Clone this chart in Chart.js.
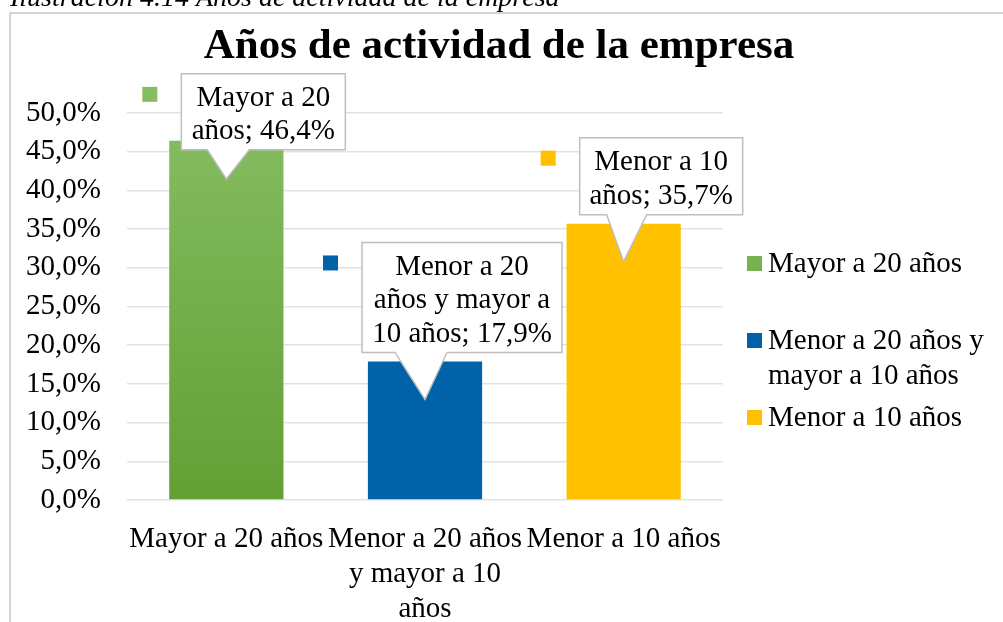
<!DOCTYPE html>
<html lang="es">
<head>
<meta charset="UTF-8">
<title>Años de actividad de la empresa</title>
<script src="https://cdn.jsdelivr.net/npm/chart.js"></script>
<style>
  html, body { margin: 0; padding: 0; background: #fff; overflow: hidden; }
  #wrap { width: 1003px; height: 622px; }
</style>
</head>
<body>
<div id="wrap"><canvas id="myChart" width="1003" height="622"></canvas></div>
<script>
// --- datos ---
const caption = 'Ilustración 4.14 Años de actividad de la empresa';
const chartTitle = 'Años de actividad de la empresa';
const categories = ['Mayor a 20 años', 'Menor a 20 años y mayor a 10 años', 'Menor a 10 años'];
const tickLabels = [['Mayor a 20 años'], ['Menor a 20 años', 'y mayor a 10', 'años'], ['Menor a 10 años']];
const values = [46.4, 17.9, 35.7];
const yMax = 50;
const yStep = 5;

// --- estilo ---
const serif = "'Liberation Serif', 'Times New Roman', serif";
const barColors = ['#6aa83e', '#0062a9', '#ffc000'];
const gridColor = '#dfe3e8';

function pct(v) {
  return v.toFixed(1).replace('.', ',') + '%';
}

function wrapText(ctx, text, maxW) {
  const words = text.split(' ');
  const lines = [];
  let line = '';
  words.forEach(function (w) {
    const test = line ? line + ' ' + w : w;
    if (line && ctx.measureText(test).width > maxW) {
      lines.push(line);
      line = w;
    } else {
      line = test;
    }
  });
  if (line) lines.push(line);
  return lines;
}

function greenGradient(chart) {
  const area = chart.chartArea;
  if (!area) return barColors[0];
  const g = chart.ctx.createLinearGradient(0, area.top, 0, area.bottom);
  g.addColorStop(0, '#86bd62');
  g.addColorStop(1, '#62a034');
  return g;
}

// callouts: desplazamientos respecto a la punta
const callouts = [
  { dx: -45, w: 164, top: -105, bottom: -29, b0: -19, b1: 23 },
  { dx: -63, w: 200, top: -157, bottom: -47, b0: -30, b1: 22 },
  { dx: -44, w: 163, top: -124, bottom: -47, b0: -17, b1: 23 }
];
const legendY = [263, 340, 417];

const decor = {
  id: 'decor',
  afterDraw: function (chart) {
    const ctx = chart.ctx;
    ctx.save();

    // marco
    ctx.strokeStyle = '#c8c8c8';
    ctx.lineWidth = 1.5;
    ctx.beginPath();
    ctx.moveTo(10, 622);
    ctx.lineTo(10, 13);
    ctx.lineTo(1003, 13);
    ctx.stroke();

    // leyenda de la ilustracion (cortada arriba)
    ctx.fillStyle = '#000';
    ctx.font = 'italic 28px ' + serif;
    ctx.textAlign = 'left';
    ctx.textBaseline = 'alphabetic';
    ctx.fillText(caption, 10, 6);

    // titulo
    ctx.font = 'bold 43px ' + serif;
    ctx.textAlign = 'center';
    ctx.textBaseline = 'alphabetic';
    ctx.fillText(chartTitle, 499, 58);

    // etiquetas de datos
    const meta = chart.getDatasetMeta(0);
    ctx.font = '29px ' + serif;
    meta.data.forEach(function (bar, i) {
      const c = callouts[i];
      const tx = bar.x, ty = bar.y + 38;
      const l = tx + c.dx, r = l + c.w, t = ty + c.top, b = ty + c.bottom;
      ctx.beginPath();
      ctx.moveTo(l, t);
      ctx.lineTo(r, t);
      ctx.lineTo(r, b);
      ctx.lineTo(tx + c.b1, b);
      ctx.lineTo(tx, ty);
      ctx.lineTo(tx + c.b0, b);
      ctx.lineTo(l, b);
      ctx.closePath();
      ctx.fillStyle = '#fff';
      ctx.fill();
      ctx.strokeStyle = '#bfbfbf';
      ctx.lineWidth = 1.5;
      ctx.stroke();

      const lines = wrapText(ctx, categories[i] + '; ' + pct(values[i]), c.w - 12);
      ctx.fillStyle = '#000';
      ctx.textAlign = 'center';
      ctx.textBaseline = 'middle';
      const h = b - t;
      const y0 = t + h / 2 + 3 - (lines.length - 1) * 33.5 / 2;
      lines.forEach(function (ln, k) {
        ctx.fillText(ln, (l + r) / 2, y0 + k * 33.5);
      });

      // clave de leyenda
      ctx.fillStyle = i === 0 ? greenGradient(chart) : barColors[i];
      ctx.fillRect(l - 39, t + 13, 15, 15);
    });

    // leyenda
    ctx.textAlign = 'left';
    ctx.textBaseline = 'middle';
    categories.forEach(function (cat, i) {
      const y = legendY[i];
      ctx.fillStyle = i === 0 ? greenGradient(chart) : barColors[i];
      ctx.fillRect(747, y - 7, 15, 15);
      ctx.fillStyle = '#000';
      const lines = wrapText(ctx, cat, 228);
      lines.forEach(function (ln, k) {
        ctx.fillText(ln, 768, y + 1 + k * 35);
      });
    });

    ctx.restore();
  }
};

Chart.defaults.font.family = serif;
Chart.defaults.color = '#000';

new Chart(document.getElementById('myChart'), {
  type: 'bar',
  data: {
    labels: tickLabels,
    datasets: [{
      data: values,
      backgroundColor: function (c) {
        return c.dataIndex === 0 ? greenGradient(c.chart) : barColors[c.dataIndex];
      },
      borderWidth: 0,
      categoryPercentage: 1,
      barPercentage: 0.575
    }]
  },
  options: {
    responsive: false,
    animation: false,
    layout: { padding: { left: 10, right: 280, top: 113, bottom: 0 } },
    plugins: {
      legend: { display: false },
      title: { display: false },
      tooltip: { enabled: false }
    },
    scales: {
      x: {
        grid: { display: false },
        border: { display: false },
        ticks: {
          font: { size: 29, lineHeight: 1.2 },
          color: '#000',
          padding: 14,
          maxRotation: 0,
          autoSkip: false
        },
        afterFit: function (scale) { scale.height = 122; }
      },
      y: {
        min: 0,
        max: yMax,
        grid: { color: gridColor, lineWidth: 1.5, drawTicks: false },
        border: { display: false },
        ticks: {
          stepSize: yStep,
          font: { size: 29 },
          color: '#000',
          padding: 26,
          callback: function (v) { return pct(v); }
        },
        afterFit: function (scale) { scale.width = 117; }
      }
    }
  },
  plugins: [decor]
});
</script>
</body>
</html>
